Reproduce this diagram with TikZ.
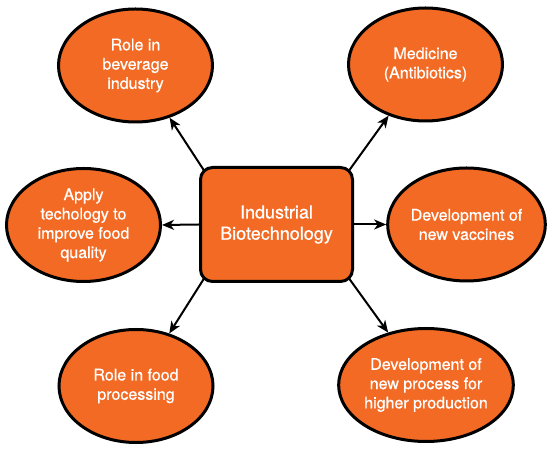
\documentclass[tikz,border=0pt]{standalone}
\usepackage{fontspec}
\setmainfont{TeX Gyre Heros}[FakeBold=0.7]
\usetikzlibrary{shapes.geometric,arrows.meta,backgrounds}
\definecolor{bioorange}{RGB}{242,106,36}

\begin{document}
\begin{tikzpicture}[%
    x=1pt, y=1pt,
    usenode/.style={
        ellipse,
        draw,
        line width=3pt,
        fill=bioorange,
        text=white,
        inner sep=0pt,
        minimum width=154pt,
        minimum height=113pt,
        align=center,
        font=\fontsize{16}{19.3}\selectfont
        },
    corebox/.style={
        rectangle,
        draw,
        line width=3pt,
        rounded corners=12pt,
        fill=bioorange,
        text=white,
        minimum width=152pt,
        minimum height=114pt,
        align=center,
        font=\fontsize{18}{21.3}\selectfont
        },
    link/.style={
        line width=2pt,
        -{Stealth[length=12pt,width=10pt,inset=3.5pt]}
        }
]
\useasboundingbox (0,0) rectangle (549,449);

\node[corebox] (core) at (276.5,224.5) {Industrial\\Biotechnology};

\node[usenode] (beverage) at (135.5,383.5) {Role in\\beverage\\industry};
\node[usenode] (medicine) at (425.5,384.5) {Medicine\\(Antibiotics)};
\node[usenode] (quality)  at (83.5,224)    {Apply\\techology to\\improve food\\quality};
\node[usenode] (vaccines) at (466.5,224.5) {Development of\\new vaccines};
\node[usenode] (food)     at (136,63)      {Role in food\\processing};
\node[usenode] (process)  at (426,64)      {Development of\\new process for\\higher production};

\begin{scope}[on background layer]
\draw[link] ([shift={(6pt,-6pt)}]core.north west) -- (beverage);
\draw[link] ([shift={(-6pt,-6pt)}]core.north east) -- (medicine);
\draw[link] (core.west) -- (quality.east);
\draw[link] (core.east) -- (vaccines.west);
\draw[link] ([shift={(6pt,6pt)}]core.south west) -- (food);
\draw[link] ([shift={(-6pt,6pt)}]core.south east) -- (process);
\end{scope}

\end{tikzpicture}
\end{document}
